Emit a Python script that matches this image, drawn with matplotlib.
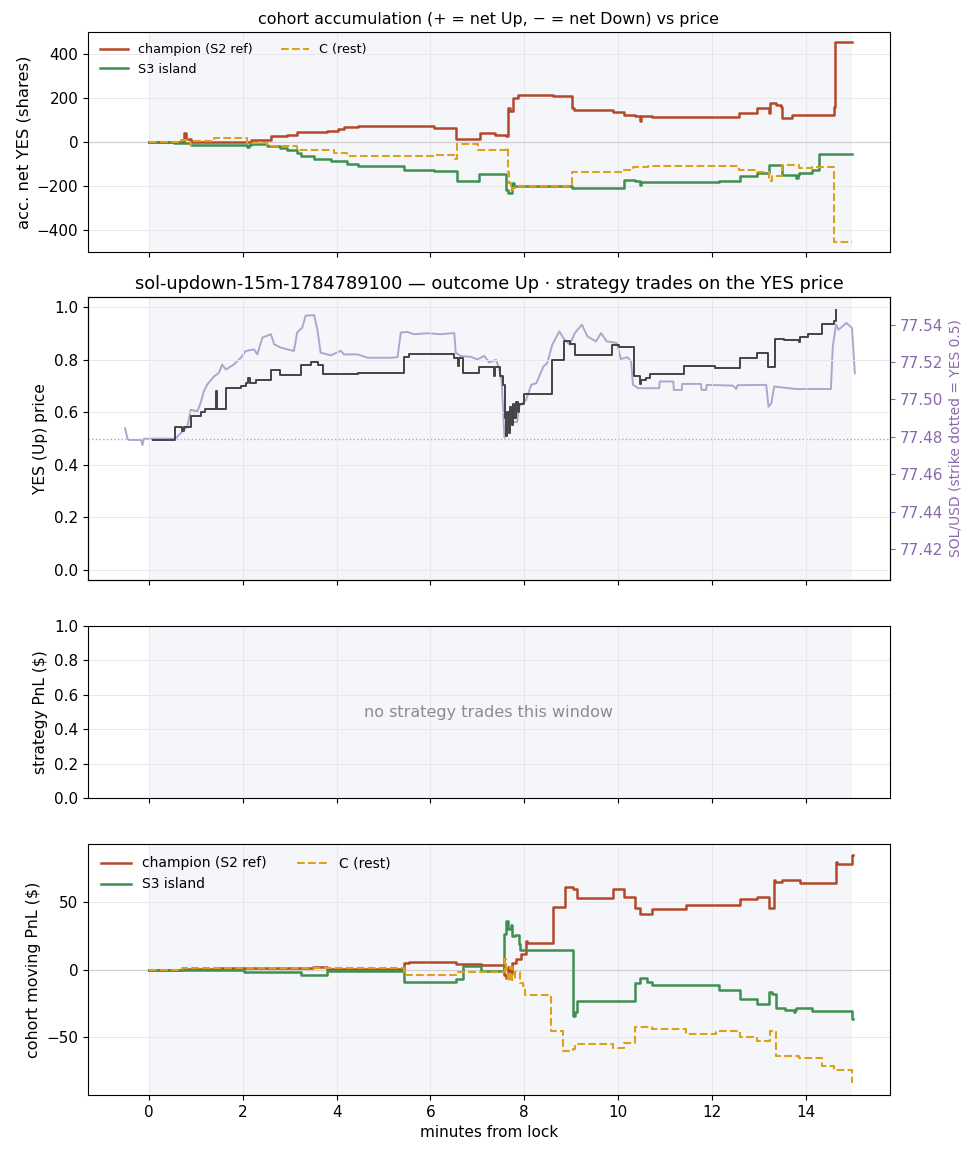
import matplotlib
matplotlib.use("Agg")
import matplotlib.pyplot as plt
import numpy as np

# ---------------- data ----------------
# panel 1: cohort accumulation (shares), step series (t in minutes from lock)
champ_t = [0.00, 0.75, 0.78, 0.89, 2.17, 2.60, 2.80, 2.95, 3.16, 3.80, 4.02, 4.16, 4.45, 6.08, 6.55,
           7.05, 7.37, 7.62, 7.65, 7.69, 7.76, 7.87, 8.00, 8.62, 9.01, 9.07, 9.90, 10.12, 10.37, 10.46,
           10.49, 10.72, 12.58, 12.97, 13.18, 13.22, 13.25, 13.36, 13.47, 13.50, 13.71, 14.60, 14.62, 15.00]
champ_v = [0, 41, 14, 2, 11, 26, 29, 34, 44, 49, 60, 69, 72, 64, 15,
           41, 34, 26, 156, 141, 202, 213, 217, 209, 156, 145, 136, 125, 118, 95,
           118, 115, 133, 156, 156, 131, 179, 171, 161, 110, 122, 160, 457, 457]

rest_t = [0.00, 0.68, 0.87, 0.89, 1.39, 2.10, 2.52, 3.16, 3.95, 4.23, 6.08, 6.51, 6.57, 7.02, 7.61,
          7.65, 7.67, 7.72, 7.76, 7.80, 9.02, 9.90, 10.08, 10.33, 10.65, 12.58, 12.97, 13.22, 13.29, 13.50,
          13.86, 14.14, 14.61, 15.00]
rest_v = [0, 11, -12, 3, 16, -5, -20, -38, -50, -66, -58, -78, -8, -35, -28,
          -135, -188, -219, -211, -203, -139, -135, -127, -116, -109, -130, -139, -176, -157, -107,
          -119, -115, -456, -456]

isl_t = [0.00, 0.53, 0.89, 2.10, 2.14, 2.17, 2.52, 2.80, 2.95, 3.16, 3.24, 3.52, 3.88, 4.23, 4.45,
         5.44, 6.08, 6.56, 7.04, 7.62, 7.66, 7.73, 7.78, 7.82, 9.03, 10.12, 10.37, 10.46, 10.49, 10.72,
         12.15, 12.61, 12.97, 13.22, 13.50, 13.80, 13.83, 13.86, 14.14, 14.29, 15.00]
isl_v = [0, -5, -12, -22, -12, -8, -17, -27, -35, -50, -66, -78, -89, -99, -111,
         -127, -134, -180, -145, -218, -231, -188, -199, -199, -211, -173, -180, -195, -185, -183,
         -177, -157, -142, -104, -150, -165, -150, -142, -127, -55, -55]

# panel 2: YES (Up) price, step series
yes_t = [0.09, 0.55, 0.70, 0.74, 0.89, 1.10, 1.19, 1.43, 1.46, 1.64,
         1.96, 2.06, 2.12, 2.15, 2.28, 2.60, 2.80, 3.24, 3.45, 3.61,
         3.70, 4.45, 5.43, 5.55, 6.51, 6.58, 6.62, 6.69, 7.04, 7.35,
         7.38, 7.49, 7.55, 7.59, 7.61, 7.64, 7.67, 7.70, 7.73, 7.76,
         7.79, 7.82, 7.86, 7.90, 8.00, 8.60, 8.84, 8.97, 9.08, 9.87,
         10.02, 10.35, 10.47, 10.49, 10.59, 10.69, 11.40, 12.06, 12.60, 12.97,
         13.19, 13.34, 13.53, 13.87, 13.89, 14.05, 14.35, 14.60, 14.64, 14.65]
yes_v = [0.493, 0.544, 0.528, 0.544, 0.585, 0.600, 0.611, 0.681, 0.611, 0.694,
         0.700, 0.713, 0.730, 0.713, 0.723, 0.761, 0.742, 0.779, 0.792, 0.779,
         0.745, 0.749, 0.812, 0.821, 0.809, 0.775, 0.809, 0.749, 0.773, 0.740,
         0.773, 0.738, 0.706, 0.579, 0.508, 0.600, 0.520, 0.620, 0.550, 0.630,
         0.580, 0.640, 0.600, 0.630, 0.671, 0.801, 0.871, 0.862, 0.817, 0.855,
         0.849, 0.737, 0.707, 0.722, 0.732, 0.745, 0.775, 0.769, 0.807, 0.826,
         0.773, 0.881, 0.877, 0.868, 0.887, 0.900, 0.938, 0.950, 0.989, 0.989]

# SOL/USD spot
sol_t = [-0.51, -0.46, -0.42, -0.17, -0.14, -0.11, 0.55, 0.60, 0.75, 0.82,
         0.89, 1.03, 1.10, 1.17, 1.24, 1.39, 1.49, 1.56, 1.64, 1.81,
         1.96, 2.06, 2.24, 2.31, 2.42, 2.60, 2.67, 2.81, 2.95, 3.09,
         3.16, 3.27, 3.34, 3.52, 3.59, 3.66, 3.88, 4.09, 4.16, 4.45,
         4.66, 5.16, 5.30, 5.37, 5.51, 5.65, 5.94, 6.22, 6.51, 6.54,
         6.65, 6.86, 7.00, 7.15, 7.25, 7.40, 7.47, 7.52, 7.58, 7.63,
         7.72, 7.85, 7.89, 8.04, 8.15, 8.26, 8.41, 8.49, 8.60, 8.75,
         8.86, 8.97, 9.08, 9.23, 9.35, 9.53, 9.64, 9.76, 9.91, 9.98,
         10.06, 10.20, 10.28, 10.32, 10.43, 10.88, 10.89, 11.18, 11.19, 11.36,
         11.37, 11.77, 11.78, 11.88, 11.89, 12.45, 12.52, 12.55, 13.16, 13.21,
         13.27, 13.33, 13.79, 14.54, 14.58, 14.65, 14.70, 14.87, 14.99, 15.05]
sol_v = [77.4846, 77.4790, 77.4783, 77.4783, 77.4756, 77.4790, 77.4790, 77.4800, 77.4837, 77.4855,
         77.4945, 77.4936, 77.4980, 77.5043, 77.5079, 77.5124, 77.5142, 77.5187, 77.5160, 77.5187,
         77.5223, 77.5259, 77.5268, 77.5241, 77.5331, 77.5349, 77.5295, 77.5277, 77.5268, 77.5259,
         77.5358, 77.5385, 77.5448, 77.5451, 77.5376, 77.5250, 77.5236, 77.5260, 77.5241, 77.5241,
         77.5223, 77.5223, 77.5226, 77.5358, 77.5361, 77.5349, 77.5354, 77.5349, 77.5355, 77.5250,
         77.5232, 77.5228, 77.5214, 77.5233, 77.5198, 77.5212, 77.5160, 77.5100, 77.4795, 77.4875,
         77.4878, 77.4880, 77.4961, 77.4997, 77.5078, 77.5087, 77.5176, 77.5194, 77.5293, 77.5364,
         77.5319, 77.5293, 77.5355, 77.5400, 77.5337, 77.5310, 77.5355, 77.5310, 77.5305, 77.5300,
         77.5216, 77.5226, 77.5203, 77.5078, 77.5060, 77.5060, 77.5096, 77.5096, 77.5051, 77.5051,
         77.5083, 77.5083, 77.5051, 77.5051, 77.5078, 77.5074, 77.5056, 77.5076, 77.5078, 77.4961,
         77.4979, 77.5069, 77.5056, 77.5056, 77.5284, 77.5400, 77.5373, 77.5409, 77.5382, 77.5140]
strike = 77.4791

# panel 4: cohort moving PnL ($)
cp_t = [0.00, 0.70, 1.50, 3.50, 3.80, 5.44, 5.55, 6.55, 7.08, 7.57,
        7.62, 7.66, 7.70, 7.75, 7.82, 7.94, 8.04, 8.06, 8.62, 8.86,
        9.05, 9.12, 9.90, 10.12, 10.37, 10.47, 10.72, 11.44, 12.61, 12.97,
        13.22, 13.32, 13.35, 13.50, 13.89, 14.64, 14.66, 15.00, 15.01]
cp_v = [0.0, 0.5, 1.0, 1.5, 0.5, 5.0, 5.7, 4.0, 3.0, -4.0,
        -6.7, 2.0, -3.0, 5.2, 7.7, 11.4, 21.5, 19.4, 46.9, 61.8,
        59.8, 53.6, 59.8, 54.3, 46.2, 41.2, 44.9, 48.4, 52.4, 54.3,
        46.2, 66.7, 65.3, 66.5, 64.3, 80.0, 78.4, 85.1, 85.1]

ip_t = [0.00, 2.03, 3.24, 3.80, 5.44, 6.54, 6.69, 7.08, 7.58, 7.62,
        7.66, 7.71, 7.74, 7.80, 7.89, 7.92, 9.05, 9.08, 9.12, 10.37,
        10.47, 10.62, 10.72, 12.15, 12.61, 12.97, 13.22, 13.29, 13.36, 13.56,
        13.75, 13.78, 13.80, 14.14, 15.00, 15.01]
ip_v = [0.0, -1.7, -4.2, -1.0, -9.2, -7.2, 2.7, -1.0, 26.4, 36.3,
        30.0, 33.0, 25.0, 26.0, 18.9, 14.4, -34.5, -32.0, -23.8, -9.7,
        -6.0, -9.2, -11.7, -15.1, -22.1, -25.8, -17.1, -18.5, -29.0, -30.0,
        -31.5, -30.0, -29.0, -31.3, -37.0, -37.0]

rp_t = [0.00, 0.70, 5.44, 6.58, 7.08, 7.60, 7.62, 7.66, 7.70, 7.74,
        7.80, 7.91, 7.98, 8.01, 8.58, 8.83, 9.04, 9.08, 9.90, 10.12,
        10.37, 10.72, 11.44, 12.08, 12.61, 12.97, 13.25, 13.36, 13.86, 14.36,
        14.61, 15.00, 15.01]
rp_v = [0.0, 1.0, -4.0, -1.7, -2.2, 7.7, -3.0, -8.4, 2.0, -8.0,
        -2.2, -9.7, -12.2, -18.9, -46.2, -60.5, -59.0, -55.6, -58.8, -54.8,
        -42.7, -44.4, -48.1, -46.2, -50.6, -53.6, -45.7, -64.8, -66.3, -71.7,
        -74.7, -84.1, -84.1]

labels = ["champion (S2 ref)", "S3 island", "C (rest)"]
window_end = 15.0
xticks = [0, 2, 4, 6, 8, 10, 12, 14]

# ---------------- style ----------------
C_CHAMP = "#b5482a"
C_ISL = "#3f8f50"
C_REST = "#dda01c"
C_YES = "#444444"
C_SOL = "#b3a3cf"
C_SOLTXT = "#8a68ad"
C_SHADE = "#f5f6fa"
C_GRID = "#e7e7ec"

plt.rcParams["font.family"] = ["DejaVu Sans"]
plt.rcParams["font.size"] = 11

W, H = 978, 1156
fig = plt.figure(figsize=(W / 100, H / 100), dpi=100)
L, R = 88, 890


def mk(top, bot):
    return fig.add_axes([L / W, (H - bot) / H, (R - L) / W, (bot - top) / H])


ax1 = mk(32, 252)
ax2 = mk(297, 580)
ax3 = mk(626, 798)
ax4 = mk(844, 1095)

xlim = (-1.3, 15.8)
for ax in (ax1, ax2, ax3, ax4):
    if ax is not ax2:
        ax.axvspan(0, window_end, color=C_SHADE, zorder=0, lw=0)
    ax.grid(True, color=C_GRID, lw=0.7, zorder=0.5)
    ax.set_axisbelow(True)
    ax.set_xlim(*xlim)
    ax.set_xticks(xticks)
    ax.tick_params(labelsize=11)
for ax in (ax1, ax2, ax3):
    ax.tick_params(labelbottom=False)

# panel 1
ax1.axhline(0, color="#d0d0d0", lw=0.9, zorder=1)
ax1.plot(champ_t, champ_v, drawstyle="steps-post", color=C_CHAMP, lw=1.8, label=labels[0], zorder=3)
ax1.plot(isl_t, isl_v, drawstyle="steps-post", color=C_ISL, lw=1.8, label=labels[1], zorder=3)
ax1.plot(rest_t, rest_v, drawstyle="steps-post", color=C_REST, lw=1.5, ls="--", label=labels[2], zorder=3)
m1 = max(abs(v) for v in champ_v + isl_v + rest_v) * 1.1
ax1.set_ylim(-m1, m1)
ax1.set_yticks([-400, -200, 0, 200, 400])
ax1.set_ylabel("acc. net YES (shares)", fontsize=11.8)
ax1.set_title("cohort accumulation (+ = net Up, \u2212 = net Down) vs price", fontsize=11.4)
ax1.legend(loc="upper left", ncol=2, frameon=False, fontsize=9.2, handlelength=2.2, columnspacing=2.2)

# panel 2
ax2b = ax2.twinx()
ax2b.set_zorder(0)
ax2.set_zorder(1)
ax2.patch.set_visible(False)
ax2b.patch.set_visible(True)
ax2b.patch.set_facecolor("white")
ax2b.axvspan(0, window_end, color=C_SHADE, zorder=0, lw=0)
ax2b.plot(sol_t, sol_v, color=C_SOL, lw=1.4, zorder=2)
half = 0.0757
ax2b.set_ylim(strike - half, strike + half)
ax2b.axhline(strike, color=C_SOL, ls=":", lw=1.0)
ax2b.set_yticks([77.42, 77.44, 77.46, 77.48, 77.50, 77.52, 77.54])
ax2b.set_yticklabels([f"{v:.2f}" for v in [77.42, 77.44, 77.46, 77.48, 77.50, 77.52, 77.54]])
ax2b.tick_params(axis="y", colors=C_SOLTXT, labelsize=11)
ax2b.spines["right"].set_color("black")
ax2b.set_ylabel("SOL/USD (strike dotted = YES 0.5)", color=C_SOLTXT, fontsize=10)

ax2.plot(yes_t, yes_v, drawstyle="steps-post", color=C_YES, lw=1.4, zorder=4)
ax2.set_ylim(-0.04, 1.04)
ax2.set_yticks([0.0, 0.2, 0.4, 0.6, 0.8, 1.0])
ax2.set_ylabel("YES (Up) price", fontsize=11.2)
ax2.set_title("sol-updown-15m-1784789100 \u2014 outcome Up \u00b7 strategy trades on the YES price", fontsize=12.8)

# panel 3
ax3.set_ylim(0, 1)
ax3.set_ylabel("strategy PnL ($)", fontsize=11.2)
ax3.text(0.5, 0.5, "no strategy trades this window", transform=ax3.transAxes,
         ha="center", va="center", color="#8c8c8c", fontsize=11.5)

# panel 4
ax4.axhline(0, color="#d0d0d0", lw=0.9, zorder=1)
ax4.plot(cp_t, cp_v, drawstyle="steps-post", color=C_CHAMP, lw=1.8, label=labels[0], zorder=3)
ax4.plot(ip_t, ip_v, drawstyle="steps-post", color=C_ISL, lw=1.8, label=labels[1], zorder=3)
ax4.plot(rp_t, rp_v, drawstyle="steps-post", color=C_REST, lw=1.5, ls="--", label=labels[2], zorder=3)
m4 = max(abs(v) for v in cp_v + ip_v + rp_v) * 1.1
ax4.set_ylim(-m4, m4)
ax4.set_yticks([-50, 0, 50])
ax4.set_ylabel("cohort moving PnL ($)", fontsize=11.4)
ax4.set_xlabel("minutes from lock")
ax4.legend(loc="upper left", ncol=2, frameon=False, fontsize=10, handlelength=2.2, columnspacing=2.2)

fig.savefig("out.png", dpi=100)
